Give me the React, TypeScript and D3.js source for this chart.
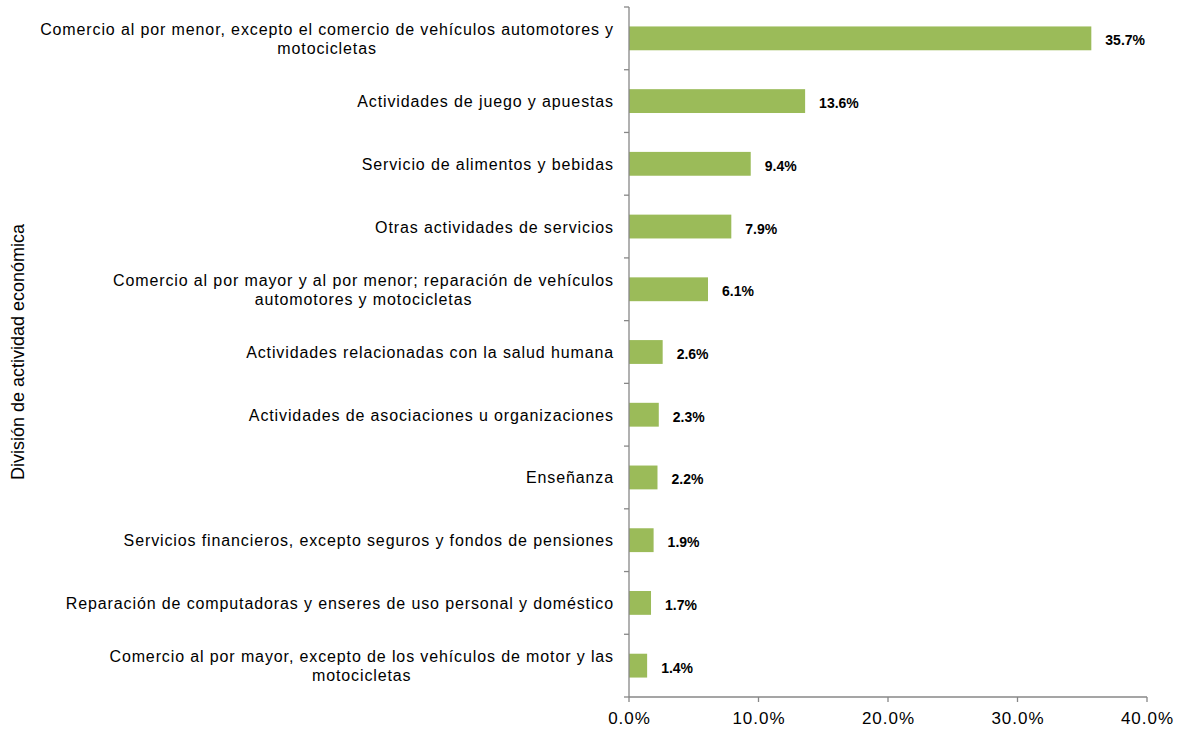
import React from "react";
import * as d3 from "d3";

const categories: string[][] = [
  ["Comercio al por menor, excepto el comercio de vehículos automotores y", "motocicletas"],
  ["Actividades de juego y apuestas"],
  ["Servicio de alimentos y bebidas"],
  ["Otras actividades de servicios"],
  ["Comercio al por mayor y al por menor; reparación de vehículos", "automotores y motocicletas"],
  ["Actividades relacionadas con la salud humana"],
  ["Actividades de asociaciones u organizaciones"],
  ["Enseñanza"],
  ["Servicios financieros, excepto seguros y fondos de pensiones"],
  ["Reparación de computadoras y enseres de uso personal y doméstico"],
  ["Comercio al por mayor, excepto de los vehículos de motor y las", "motocicletas"],
];
const values: number[] = [35.7, 13.6, 9.4, 7.9, 6.1, 2.6, 2.3, 2.2, 1.9, 1.7, 1.4];
const xTicks: number[] = [0, 10, 20, 30, 40];
const axisTitle = "División de actividad económica";

const W = 1179;
const H = 732;
const x0 = 629;
const x1 = 1147;
const yTop = 7;
const yBot = 697;

export default function App() {
  const x = d3.scaleLinear().domain([0, 40]).range([x0, x1]);
  const idx = categories.map((_, i) => String(i));
  const y = d3.scaleBand().domain(idx).range([yTop, yBot]).paddingInner(0.62).paddingOuter(0.31);
  const bandStep = (yBot - yTop) / categories.length;
  const font = "'Liberation Sans', Arial, sans-serif";
  const axisColor = "#878787";
  return (
    <svg width={W} height={H} style={{ position: "absolute", left: 0, top: 0, background: "#fff" }}>
      {values.map((v, i) => (
        <rect key={"b" + i} x={x(0)} y={y(String(i))!} width={x(v) - x(0)} height={y.bandwidth()} fill="#9BBB59" />
      ))}
      <line x1={x0} x2={x0} y1={yTop} y2={yBot} stroke={axisColor} strokeWidth={1.3} />
      {d3.range(categories.length + 1).map((i) => (
        <line key={"yt" + i} x1={x0 - 5} x2={x0} y1={yTop + i * bandStep} y2={yTop + i * bandStep} stroke={axisColor} strokeWidth={1.3} />
      ))}
      <line x1={x0} x2={x1} y1={yBot} y2={yBot} stroke={axisColor} strokeWidth={1.3} />
      {xTicks.map((t) => (
        <g key={"xt" + t}>
          <line x1={x(t)} x2={x(t)} y1={yBot} y2={yBot + 5} stroke={axisColor} strokeWidth={1.3} />
          <text x={x(t) + 0.5} y={yBot + 27} textAnchor="middle" fontFamily={font} fontSize={17} letterSpacing={1} fill="#000">
            {t.toFixed(1) + "%"}
          </text>
        </g>
      ))}
      {categories.map((lines, i) => {
        const cy = y(String(i))! + y.bandwidth() / 2;
        const lh = 19;
        const start = cy - ((lines.length - 1) * lh) / 2;
        return <CatLabel key={"cl" + i} lines={lines} right={614} top={start} lh={lh} font={font} />;
      })}
      {values.map((v, i) => (
        <text key={"v" + i} x={x(v) + 14} y={y(String(i))! + y.bandwidth() / 2 + 7} fontFamily={font} fontWeight="bold" fontSize={14} fill="#000">
          {v.toFixed(1) + "%"}
        </text>
      ))}
      <text transform={`translate(24,${352}) rotate(-90)`} textAnchor="middle" fontFamily={font} fontSize={18} fill="#000">
        {axisTitle}
      </text>
    </svg>
  );
}

function CatLabel({ lines, right, top, lh, font }: { lines: string[]; right: number; top: number; lh: number; font: string }) {
  const ref = React.useRef<SVGGElement>(null);
  React.useEffect(() => {
    if (!ref.current) return;
    const g = d3.select(ref.current);
    g.selectAll("*").remove();
    const texts = lines.map((ln, j) =>
      g.append("text")
        .attr("y", top + j * lh + 6)
        .attr("font-family", font)
        .attr("font-size", 16)
        .attr("letter-spacing", 0.88)
        .attr("fill", "#000")
        .text(ln)
    );
    const widths = texts.map((t) => (t.node() as SVGTextElement).getComputedTextLength());
    const maxW = Math.max(...widths);
    const cx = right - maxW / 2;
    texts.forEach((t) => t.attr("x", cx).attr("text-anchor", "middle"));
  }, [lines, right, top, lh, font]);
  return <g ref={ref} />;
}
